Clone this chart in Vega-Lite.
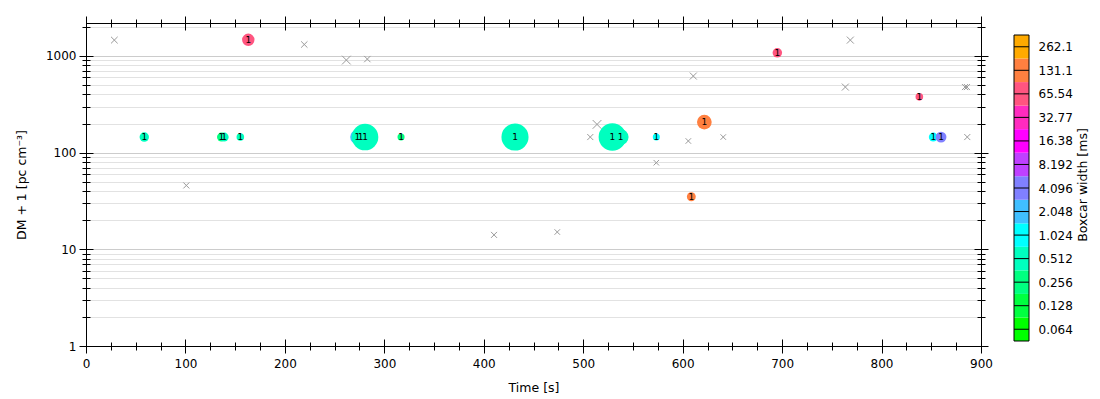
{
  "$schema": "https://vega.github.io/schema/vega-lite/v6.json",
  "padding": {"left": 14, "top": 15, "right": 70, "bottom": 0},
  "config": {"font": "DejaVu Sans", "axis": {"labelColor": "black", "titleColor": "black", "tickColor": "black", "labelFontSize": 12, "titleFontSize": 12.5, "titleFontWeight": "normal"}},
  "datasets": {
    "circles": [
      {"t": 58.6, "dm": 145, "w": 0.512, "snr": 8.8, "beam": "1"},
      {"t": 136.2, "dm": 145, "w": 0.256, "snr": 7.9, "beam": "1"},
      {"t": 139.0, "dm": 145, "w": 0.512, "snr": 7.9, "beam": "1"},
      {"t": 155.2, "dm": 145, "w": 0.512, "snr": 5.8, "beam": "1"},
      {"t": 163.2, "dm": 1470, "w": 65.536, "snr": 15.4, "beam": "1"},
      {"t": 272.8, "dm": 145, "w": 2.048, "snr": 20.1, "beam": "1"},
      {"t": 276.2, "dm": 145, "w": 0.512, "snr": 7.9, "beam": "1"},
      {"t": 280.6, "dm": 145, "w": 0.512, "snr": 70.7, "beam": "1"},
      {"t": 316.8, "dm": 145, "w": 0.256, "snr": 5.0, "beam": "1"},
      {"t": 431.4, "dm": 145, "w": 0.512, "snr": 73.5, "beam": "1"},
      {"t": 537.6, "dm": 145, "w": 0.512, "snr": 25.4, "beam": "1"},
      {"t": 529.3, "dm": 145, "w": 0.512, "snr": 75.5, "beam": "1"},
      {"t": 573.5, "dm": 145, "w": 1.024, "snr": 5.0, "beam": "1"},
      {"t": 608.7, "dm": 35, "w": 131.072, "snr": 7.9, "beam": "1"},
      {"t": 621.8, "dm": 207, "w": 131.072, "snr": 21.6, "beam": "1"},
      {"t": 695.2, "dm": 1079, "w": 65.536, "snr": 9.0, "beam": "1"},
      {"t": 838.0, "dm": 378, "w": 65.536, "snr": 5.8, "beam": "1"},
      {"t": 852.0, "dm": 145, "w": 1.024, "snr": 7.9, "beam": "1"},
      {"t": 859.8, "dm": 145, "w": 4.096, "snr": 11.8, "beam": "1"}
    ],
    "crosses": [
      {"t": 28.5, "dm": 1460, "snr": 4.4},
      {"t": 100.9, "dm": 45.8, "snr": 3.6},
      {"t": 219.5, "dm": 1315, "snr": 4.0},
      {"t": 261.8, "dm": 907, "snr": 7.6},
      {"t": 282.9, "dm": 929, "snr": 4.0},
      {"t": 410.3, "dm": 14.1, "snr": 3.6},
      {"t": 473.9, "dm": 15.1, "snr": 3.0},
      {"t": 507.1, "dm": 145, "snr": 3.6},
      {"t": 513.9, "dm": 196, "snr": 7.6},
      {"t": 573.5, "dm": 78.7, "snr": 3.0},
      {"t": 605.7, "dm": 132, "snr": 3.0},
      {"t": 610.7, "dm": 620, "snr": 4.9},
      {"t": 640.8, "dm": 145, "snr": 3.0},
      {"t": 763.6, "dm": 477, "snr": 4.9},
      {"t": 768.6, "dm": 1460, "snr": 4.9},
      {"t": 883.9, "dm": 477, "snr": 3.6},
      {"t": 885.9, "dm": 477, "snr": 3.6},
      {"t": 886.2, "dm": 145, "snr": 3.6}
    ],
    "levels": [
      {"w": 0.064, "lo": 0.045255, "hi": 0.09051},
      {"w": 0.128, "lo": 0.09051, "hi": 0.181019},
      {"w": 0.256, "lo": 0.181019, "hi": 0.362039},
      {"w": 0.512, "lo": 0.362039, "hi": 0.724077},
      {"w": 1.024, "lo": 0.724077, "hi": 1.448155},
      {"w": 2.048, "lo": 1.448155, "hi": 2.896309},
      {"w": 4.096, "lo": 2.896309, "hi": 5.792619},
      {"w": 8.192, "lo": 5.792619, "hi": 11.585238},
      {"w": 16.384, "lo": 11.585238, "hi": 23.170475},
      {"w": 32.768, "lo": 23.170475, "hi": 46.34095},
      {"w": 65.536, "lo": 46.34095, "hi": 92.6819},
      {"w": 131.072, "lo": 92.6819, "hi": 185.3638},
      {"w": 262.144, "lo": 185.3638, "hi": 370.7276}
    ],
    "frame": [{"lo": 0.045255, "hi": 370.7276}]
  },
  "hconcat": [
    {
      "width": 895,
      "height": 323,
      "view": {"stroke": "black", "strokeWidth": 1},
      "resolve": {"axis": {"x": "independent", "y": "independent"}},
      "layer": [
        {
          "data": {"name": "crosses"},
          "mark": {"type": "point", "shape": "M-1,-1L1,1M-1,1L1,-1", "filled": false, "stroke": "#9a9a9a", "strokeWidth": 1, "opacity": 1},
          "encoding": {
            "x": {"field": "t", "type": "quantitative", "scale": {"domain": [0, 900], "nice": false, "zero": false},
              "axis": {"orient": "bottom", "values": [25,50,75,125,150,175,225,250,275,325,350,375,425,450,475,525,550,575,625,650,675,725,750,775,825,850,875], "labels": false, "domain": false, "grid": false, "tickSize": 8, "offset": -4, "title": null}},
            "y": {"field": "dm", "type": "quantitative", "scale": {"type": "log", "domain": [1, 2194], "nice": false},
              "axis": {"orient": "left", "values": [2,3,4,5,6,7,8,9,20,30,40,50,60,70,80,90,200,300,400,500,600,700,800,900,2000], "labels": false, "domain": false, "grid": false, "tickSize": 8, "offset": -4, "title": null}},
            "size": {"field": "snr", "type": "quantitative", "scale": {"type": "linear", "domain": [0, 100], "range": [0, 1000]}, "legend": null}
          }
        },
        {
          "data": {"name": "circles"},
          "mark": {"type": "point", "shape": "circle", "filled": true, "opacity": 1, "strokeWidth": 0},
          "encoding": {
            "x": {"field": "t", "type": "quantitative", "scale": {"domain": [0, 900], "nice": false, "zero": false},
              "axis": {"orient": "bottom", "values": [0,100,200,300,400,500,600,700,800,900], "format": "d", "ticks": false, "tickSize": 0, "domain": false, "grid": false, "labelPadding": 12, "labelFlush": false, "labelOverlap": false, "title": "Time [s]", "titlePadding": 12.5}},
            "y": {"field": "dm", "type": "quantitative", "scale": {"type": "log", "domain": [1, 2194], "nice": false},
              "axis": {"orient": "left", "values": [1, 10, 100, 1000], "format": "d", "ticks": false, "tickSize": 0, "domain": false, "grid": false, "labelPadding": 10, "labelFlush": false, "labelOverlap": false, "title": "DM + 1 [pc cm⁻³]", "titlePadding": 17}},
            "color": {"field": "w", "type": "quantitative", "scale": {"type": "threshold", "domain": [0.09051, 0.181019, 0.362039, 0.724077, 1.448155, 2.896309, 5.792619, 11.585238, 23.170475, 46.34095, 92.6819, 185.3638], "range": ["#00ff00", "#00ff40", "#00ff80", "#00ffbf", "#00ffff", "#40bfff", "#8080ff", "#bf40ff", "#ff00ff", "#ff2bbf", "#ff5580", "#ff8040", "#ffaa00"]}, "legend": null},
            "size": {"field": "snr", "type": "quantitative", "scale": {"type": "linear", "domain": [0, 100], "range": [0, 1000]}, "legend": null}
          }
        },
        {
          "data": {"name": "circles"},
          "mark": {"type": "text", "fontSize": 9, "color": "black", "align": "center", "baseline": "middle"},
          "encoding": {
            "x": {"field": "t", "type": "quantitative", "scale": {"domain": [0, 900], "nice": false, "zero": false},
              "axis": {"orient": "bottom", "values": [0,100,200,300,400,500,600,700,800,900], "labels": false, "domain": false, "grid": false, "tickSize": 14, "offset": -7, "title": null}},
            "y": {"field": "dm", "type": "quantitative", "scale": {"type": "log", "domain": [1, 2194], "nice": false},
              "axis": {"orient": "left", "values": [1, 10, 100, 1000], "labels": false, "domain": false, "grid": false, "tickSize": 14, "offset": -7, "title": null}},
            "text": {"field": "beam"}
          }
        },
        {
          "data": {"name": "crosses"},
          "mark": {"type": "point", "opacity": 0},
          "encoding": {
            "x": {"field": "t", "type": "quantitative", "scale": {"domain": [0, 900], "nice": false, "zero": false},
              "axis": {"orient": "top", "values": [0,100,200,300,400,500,600,700,800,900], "labels": false, "domain": false, "grid": false, "tickSize": 14, "offset": -7, "title": null}},
            "y": {"field": "dm", "type": "quantitative", "scale": {"type": "log", "domain": [1, 2194], "nice": false},
              "axis": {"orient": "right", "values": [1, 10, 100, 1000], "labels": false, "domain": false, "grid": false, "tickSize": 14, "offset": -7, "title": null}}
          }
        },
        {
          "data": {"name": "crosses"},
          "mark": {"type": "point", "opacity": 0},
          "encoding": {
            "x": {"field": "t", "type": "quantitative", "scale": {"domain": [0, 900], "nice": false, "zero": false},
              "axis": {"orient": "top", "values": [25,50,75,125,150,175,225,250,275,325,350,375,425,450,475,525,550,575,625,650,675,725,750,775,825,850,875], "labels": false, "domain": false, "grid": false, "tickSize": 8, "offset": -4, "title": null}},
            "y": {"field": "dm", "type": "quantitative", "scale": {"type": "log", "domain": [1, 2194], "nice": false},
              "axis": {"orient": "right", "values": [2,3,4,5,6,7,8,9,20,30,40,50,60,70,80,90,200,300,400,500,600,700,800,900,2000], "labels": false, "domain": false, "grid": false, "tickSize": 8, "offset": -4, "title": null}}
          }
        },
        {
          "data": {"name": "crosses"},
          "mark": {"type": "point", "opacity": 0},
          "encoding": {
            "x": {"field": "t", "type": "quantitative", "scale": {"domain": [0, 900], "nice": false, "zero": false}, "axis": null},
            "y": {"field": "dm", "type": "quantitative", "scale": {"type": "log", "domain": [1, 2194], "nice": false},
              "axis": {"orient": "left", "values": [10, 100, 1000], "labels": false, "domain": false, "ticks": false, "grid": true, "gridColor": "#cccccc", "gridWidth": 1, "title": null}}
          }
        },
        {
          "data": {"name": "crosses"},
          "mark": {"type": "point", "opacity": 0},
          "encoding": {
            "x": {"field": "t", "type": "quantitative", "scale": {"domain": [0, 900], "nice": false, "zero": false}, "axis": null},
            "y": {"field": "dm", "type": "quantitative", "scale": {"type": "log", "domain": [1, 2194], "nice": false},
              "axis": {"orient": "left", "values": [2,3,4,5,6,7,8,9,20,30,40,50,60,70,80,90,200,300,400,500,600,700,800,900,2000], "labels": false, "domain": false, "ticks": false, "grid": true, "gridColor": "#e2e2e2", "gridWidth": 1, "title": null}}
          }
        }
      ]
    },
    {
      "width": 15,
      "height": 323,
      "view": {"stroke": null},
      "resolve": {"axis": {"y": "independent"}},
      "layer": [
        {
          "data": {"name": "levels"},
          "mark": {"type": "rect", "strokeWidth": 0},
          "encoding": {
            "y": {"field": "lo", "type": "quantitative", "scale": {"type": "log", "base": 2, "domain": [0.03907, 527.9], "nice": false}, "axis": null},
            "y2": {"field": "hi"},
            "color": {"field": "w", "type": "quantitative", "scale": {"type": "threshold", "domain": [0.09051, 0.181019, 0.362039, 0.724077, 1.448155, 2.896309, 5.792619, 11.585238, 23.170475, 46.34095, 92.6819, 185.3638], "range": ["#00ff00", "#00ff40", "#00ff80", "#00ffbf", "#00ffff", "#40bfff", "#8080ff", "#bf40ff", "#ff00ff", "#ff2bbf", "#ff5580", "#ff8040", "#ffaa00"]}, "legend": null}
          }
        },
        {
          "data": {"name": "levels"},
          "mark": {"type": "rule", "color": "black", "strokeWidth": 1},
          "encoding": {
            "y": {"field": "w", "type": "quantitative", "scale": {"type": "log", "base": 2, "domain": [0.03907, 527.9], "nice": false},
              "axis": {"orient": "right", "values": [0.064, 0.128, 0.256, 0.512, 1.024, 2.048, 4.096, 8.192, 16.384, 32.768, 65.536, 131.072, 262.144], "format": ".4", "ticks": false, "tickSize": 0, "domain": false, "grid": false, "labelPadding": 9, "labelFlush": false, "labelOverlap": false, "title": "Boxcar width [ms]", "titleAngle": 270, "titleBaseline": "top", "titlePadding": 4, "titleFontSize": 12.5}}
          }
        },
        {
          "data": {"name": "frame"},
          "mark": {"type": "rect", "fill": null, "fillOpacity": 0, "stroke": "black", "strokeWidth": 1},
          "encoding": {
            "y": {"field": "lo", "type": "quantitative", "scale": {"type": "log", "base": 2, "domain": [0.03907, 527.9], "nice": false}, "axis": null},
            "y2": {"field": "hi"}
          }
        }
      ]
    }
  ],
  "spacing": 33,
  "bounds": "flush"
}
